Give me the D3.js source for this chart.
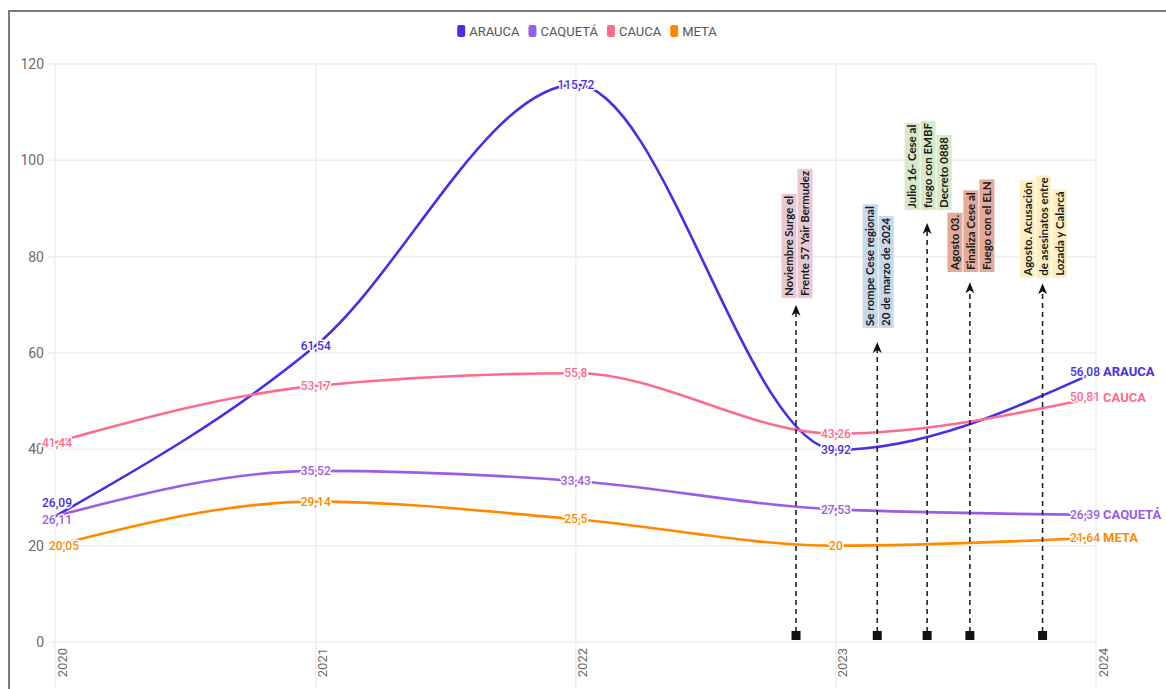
<!DOCTYPE html>
<html><head><meta charset="utf-8">
<script src="https://cdn.jsdelivr.net/npm/d3@7"></script>
<style>body{margin:0;background:#fff}svg{display:block}</style>
</head><body><svg id="c" width="1166" height="689"></svg>
<script>
// ---------- DATA ----------
const dates = ["2020-01-01","2021-01-01","2022-01-01","2023-01-01","2024-01-01"];
const seriesNames = ["ARAUCA","CAQUETÁ","CAUCA","META"];
const arauca  = [26.09, 61.54, 115.72, 39.92, 56.08];
const caqueta = [26.11, 35.52, 33.43, 27.53, 26.39];
const cauca   = [41.44, 53.17, 55.8, 43.26, 50.81];
const meta    = [20.05, 29.14, 25.5, 20, 21.64];
const yTicks = [0,20,40,60,80,100,120];
const xTicks = ["2020","2021","2022","2023","2024"];
const colors = ["#4a2de6","#9b5ce6","#ff6b8c","#ff8a00"];
const firstLabelShift = [-14, 4, 0, 0];
const firstLabelDx = [2, 2, 2, 9];

const annDates = ["2022-11-06","2023-02-28","2023-05-09","2023-07-08","2023-10-18"];
const annTip   = [70, 62.3, 87, 74.7, 74.5];
const annBase  = [71.4, 65.2, 89.7, 76.8, 75.6];
const annText  = [
  ["Noviembre Surge el","Frente 57 Yair Bermudez"],
  ["Se rompe Cese regional","20 de marzo de 2024"],
  ["Julio 16- Cese al","fuego con EMBF","Decreto 0888"],
  ["Agosto 03.","Finaliza Cese al","Fuego con el ELN"],
  ["Agosto. Acusación","de asesinatos entre","Lozada y Calarcá"]
];
const annFill = ["#e8c9d3","#c6d9ef","#d6e9c9","#e4a999","#fdefc4"];

// ---------- CHART ----------
const svg = d3.select("#c");
const parse = d3.timeParse("%Y-%m-%d");
const x = d3.scaleTime().domain([parse("2020-01-01"), parse("2024-01-01")]).range([55, 1096]);
const y = d3.scaleLinear().domain([0,120]).range([642, 64]);
const fmt = v => String(v).replace(".", ",");

// frame
svg.append("path").attr("d","M9,689 V11 H1166").attr("fill","none").attr("stroke","#7a7a7a").attr("stroke-width",2);

// grid
const g = svg.append("g");
g.selectAll("line.h").data(yTicks).join("line")
  .attr("x1",48).attr("x2",1097).attr("y1",d=>y(d)).attr("y2",d=>y(d))
  .attr("stroke","#eeeeee").attr("stroke-width",1.5);
g.selectAll("line.v").data(xTicks).join("line")
  .attr("x1",d=>x(parse(d+"-01-01"))).attr("x2",d=>x(parse(d+"-01-01")))
  .attr("y1",y(120)).attr("y2",688)
  .attr("stroke","#eeeeee").attr("stroke-width",1.5);
g.selectAll("text.yt").data(yTicks).join("text")
  .attr("x",44).attr("y",d=>y(d)).attr("dy","0.35em").attr("text-anchor","end")
  .attr("font-family","Roboto, sans-serif").attr("font-size",14).attr("fill","#6b6b6b").text(d=>d);
g.selectAll("text.xt").data(xTicks).join("text")
  .attr("transform",d=>`translate(${x(parse(d+"-01-01"))+7},648) rotate(-90)`)
  .attr("text-anchor","end").attr("dy","0.35em")
  .attr("font-family","Roboto, sans-serif").attr("font-size",13).attr("fill","#6b6b6b").text(d=>d);

// series
const allVals = [arauca, caqueta, cauca, meta];
const series = seriesNames.map((n,i)=>({name:n, color:colors[i], i,
  pts: dates.map((d,j)=>({d:parse(d), v:allVals[i][j]}))}));
const line = d3.line().x(p=>x(p.d)).y(p=>y(p.v)).curve(d3.curveMonotoneX);
svg.append("g").selectAll("path").data(series).join("path")
  .attr("d",s=>line(s.pts)).attr("fill","none").attr("stroke",s=>s.color).attr("stroke-width",2.6);

// annotations
const ag = svg.append("g");
annDates.forEach((ds,k)=>{
  const ax = x(parse(ds));
  const tipY = y(annTip[k]);
  ag.append("line").attr("x1",ax).attr("x2",ax).attr("y1",632).attr("y2",tipY+8)
    .attr("stroke","#222").attr("stroke-width",1.6).attr("stroke-dasharray","5,4");
  ag.append("path").attr("d",`M${ax},${tipY} L${ax-4.5},${tipY+11} L${ax},${tipY+8} L${ax+4.5},${tipY+11} Z`).attr("fill","#111");
  ag.append("rect").attr("x",ax-4.5).attr("y",631).attr("width",9).attr("height",9).attr("fill","#111");
  const lines = annText[k];
  const n = lines.length;
  const baseY = y(annBase[k]);
  lines.forEach((t,li)=>{
    const cx = ax + 1 + (li-(n-1)/2)*16;
    const grp = ag.append("g").attr("transform",`translate(${cx},${baseY}) rotate(-90)`);
    const rect = grp.append("rect").attr("fill",annFill[k]);
    const tx = grp.append("text").attr("x",2).attr("y",0).attr("dy","0.36em")
      .attr("font-family","Lato, sans-serif").attr("font-size",11.5).attr("font-weight","bold")
      .attr("fill","#1a1a1a").text(t);
    const w = tx.node().getComputedTextLength();
    rect.attr("x",0).attr("y",-7.5).attr("width",w+4).attr("height",15);
  });
});

// value labels
const lg = svg.append("g").attr("font-family","Roboto, sans-serif");
series.forEach(s=>{
  s.pts.forEach((p,j)=>{
    const last = j===s.pts.length-1;
    let px = x(p.d), py = y(p.v), anchor="middle";
    if(j===0){ px += firstLabelDx[s.i]; py += firstLabelShift[s.i]; }
    if(last){ px += 4; anchor="end"; }
    lg.append("text").attr("x",px).attr("y",py).attr("dy","0.35em").attr("text-anchor",anchor)
      .attr("font-size",12).attr("font-weight",500).attr("fill",s.color)
      .attr("stroke","#fff").attr("stroke-width",3).attr("paint-order","stroke").attr("stroke-linejoin","round")
      .text(fmt(p.v));
    if(last){
      lg.append("text").attr("x",x(p.d)+7).attr("y",py).attr("dy","0.35em")
        .attr("font-size",13).attr("font-weight","bold").attr("fill",s.color).text(s.name);
    }
  });
});

// legend
const leg = svg.append("g").attr("font-family","Roboto, sans-serif").attr("font-size",13);
let cur = 0;
const items = [];
series.forEach(s=>{
  const it = leg.append("g");
  it.append("rect").attr("x",0).attr("y",-6).attr("width",8).attr("height",12).attr("rx",2).attr("fill",s.color);
  const t = it.append("text").attr("x",12).attr("dy","0.35em").attr("fill","#555").text(s.name);
  const w = 12 + t.node().getComputedTextLength();
  items.push({it, off:cur}); cur += w + 9;
});
const total = cur - 9;
items.forEach(o=>o.it.attr("transform",`translate(${587-total/2+o.off},31)`));
</script></body></html>
